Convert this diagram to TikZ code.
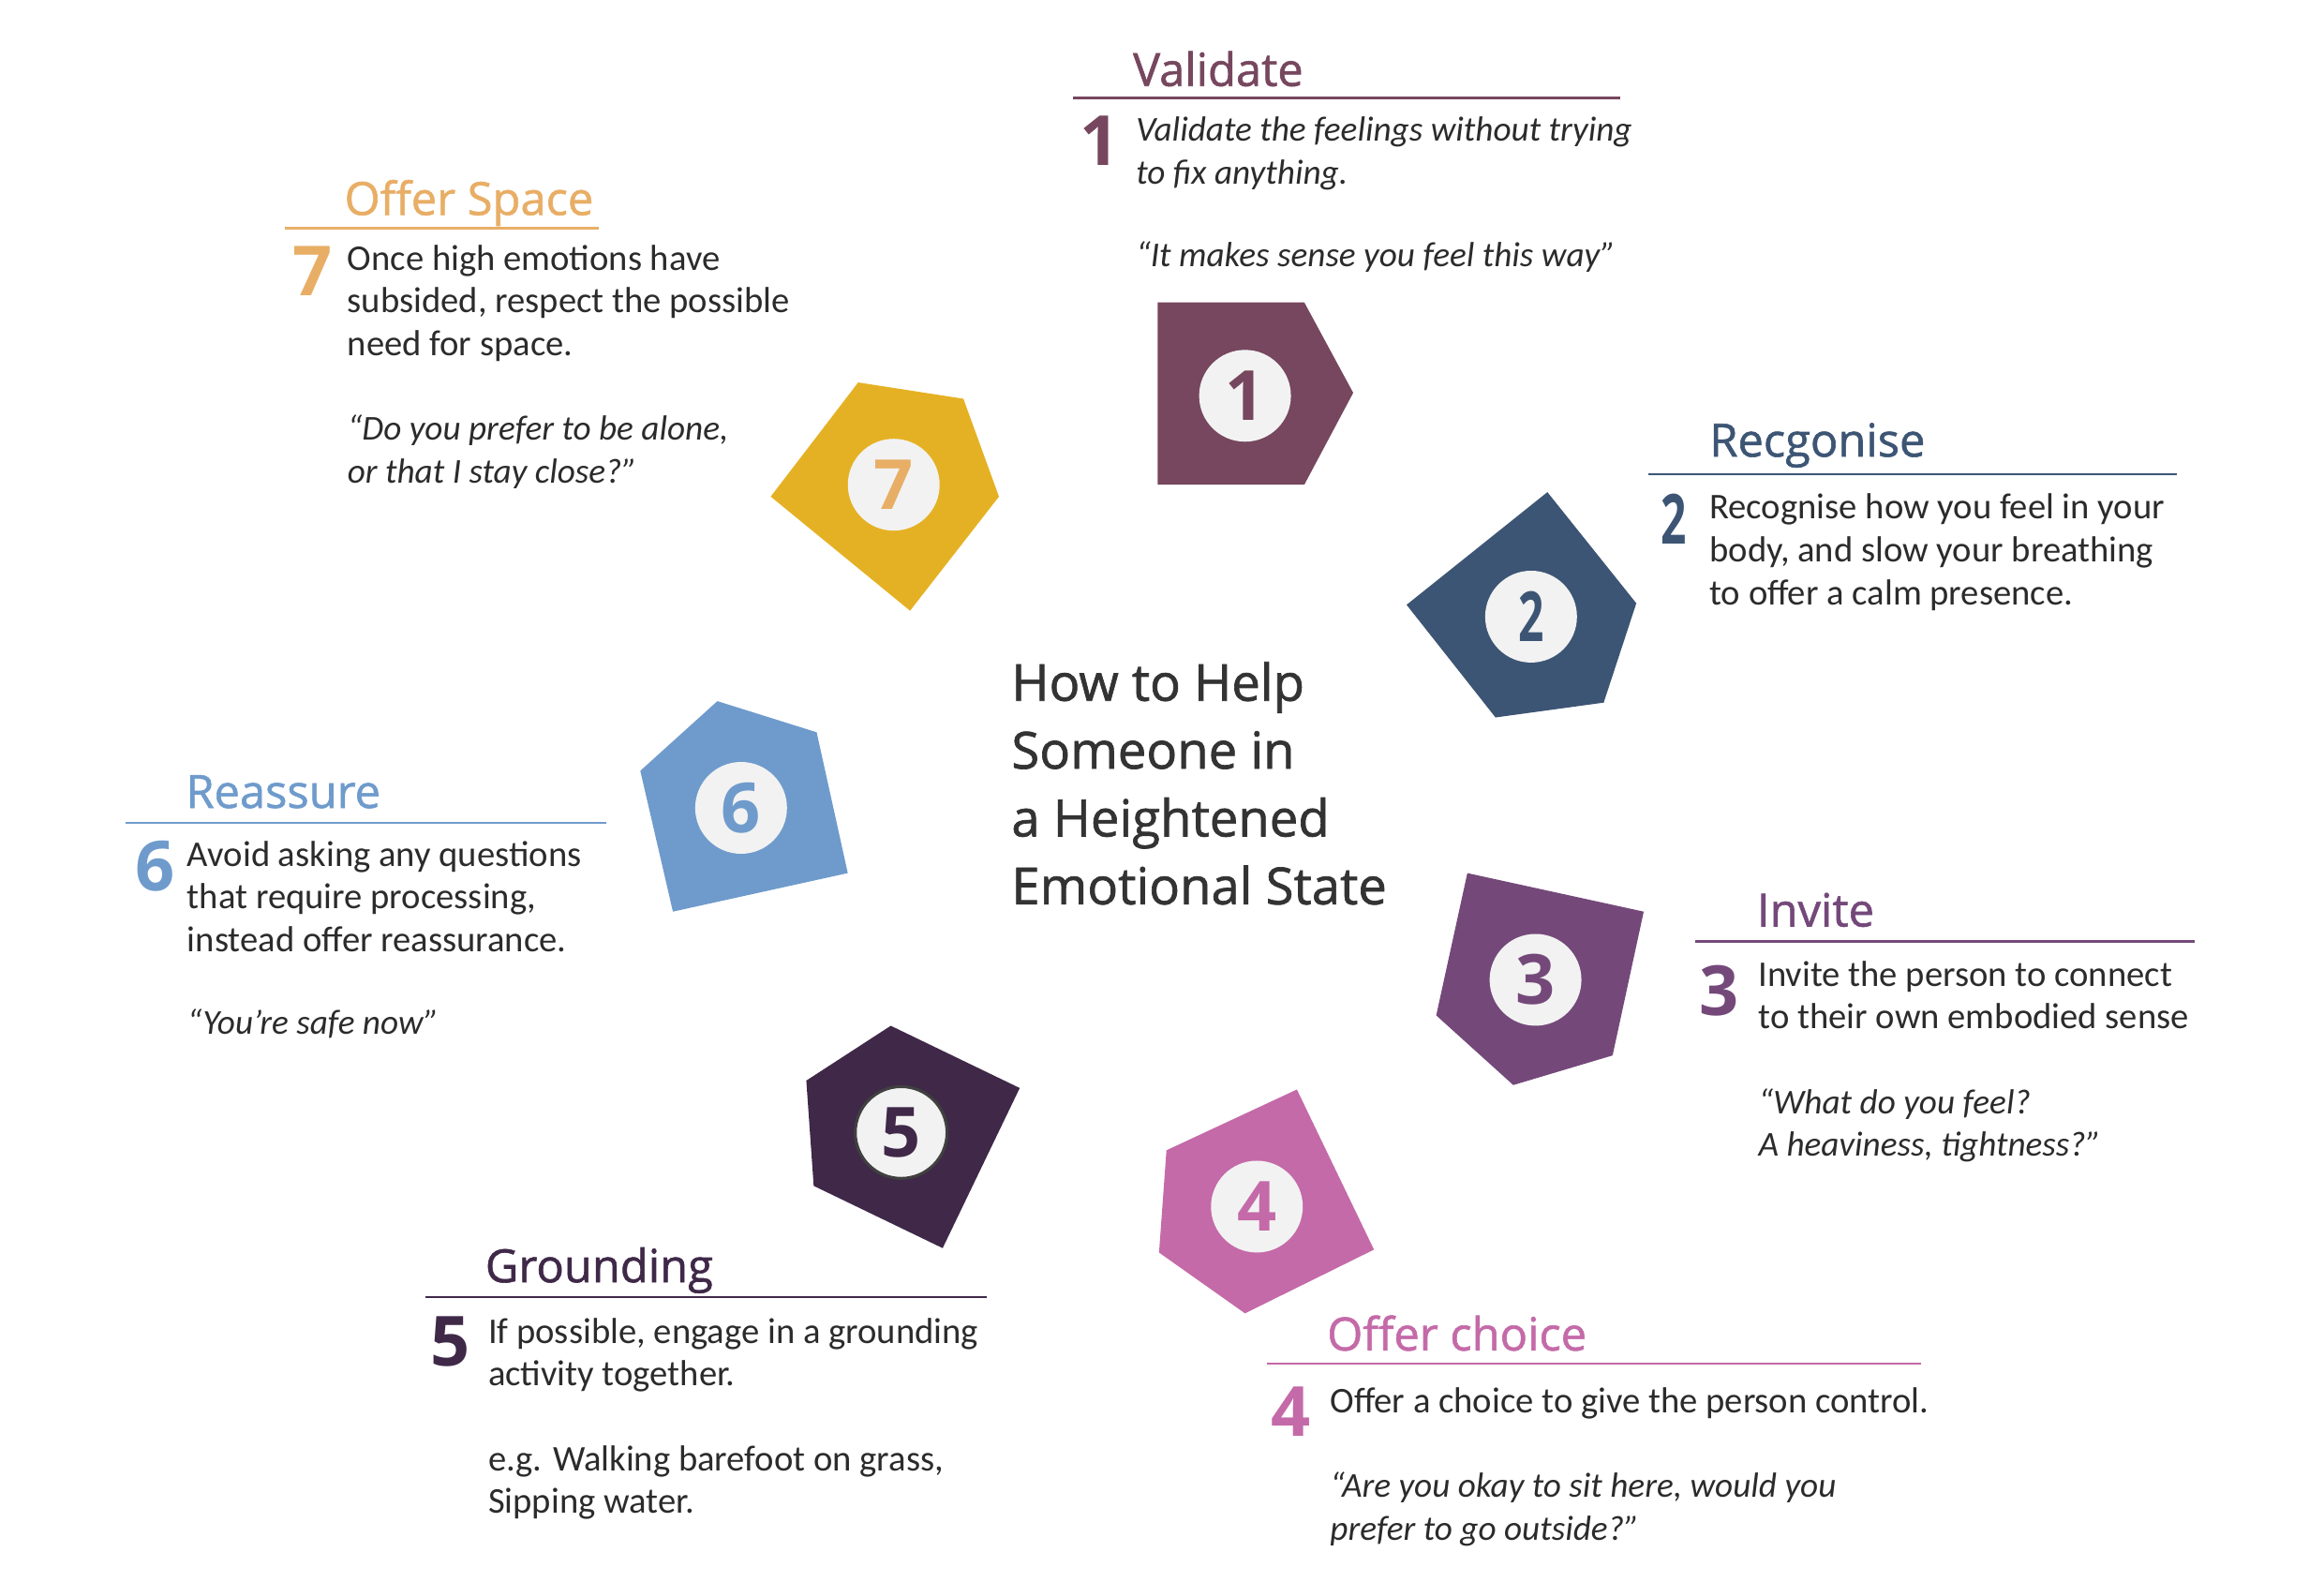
\documentclass[tikz,border=0pt]{standalone}
\usepackage{fontspec}
\usepackage{graphicx}
\setmainfont{Carlito}
\newfontfamily\headfont{Open Sans}[FakeBold=1.2]
\newfontfamily\numfont{Open Sans}
\usetikzlibrary{positioning}
\definecolor{validcol}{HTML}{76475E}
\definecolor{recogcol}{HTML}{3D5574}
\definecolor{invitecol}{HTML}{74497A}
\definecolor{choicecol}{HTML}{C46AA8}
\definecolor{groundcol}{HTML}{3F2848}
\definecolor{reasscol}{HTML}{6F9BCC}
\definecolor{spacecol}{HTML}{E5B124}
\definecolor{spacetext}{HTML}{E8AE66}
\definecolor{badgefill}{HTML}{F2F2F2}
\definecolor{bodytext}{HTML}{2B2B2B}
\definecolor{titletext}{HTML}{333333}

\begin{document}
\begin{tikzpicture}[
    x=0.015816cm, y=-0.015816cm,
    title/.style={anchor=base west, inner sep=0, align=left, text=titletext, font=\headfont\fontsize{15.5}{20.6}\selectfont},
    head/.style={anchor=base west, inner sep=0, font=\headfont\fontsize{13.9}{15}\selectfont},
    body/.style={anchor=base west, inner sep=0, align=left, text=bodytext, font=\fontsize{11}{13}\selectfont},
    quote/.style={body, font=\fontsize{10.6}{13}\selectfont\itshape},
    bignum/.style={anchor=north west, inner sep=0, font=\numfont\bfseries\fontsize{21}{21}\selectfont},
    badge/.style={circle, fill=badgefill, minimum size=9.8mm, inner sep=0, font=\numfont\bfseries\fontsize{21}{21}\selectfont},
    rule/.style={line width=0.7pt}
]
\useasboundingbox (0,0) rectangle (1568,1067);

% Title (multi-line nodes sit on their last baseline)
\node[title] (ttl) at (682,610) {How to Help\\Someone in\\a Heightened\\Emotional State};

% Tiles
\fill[validcol] (781,204) -- (880,204) -- (913,265) -- (880,327) -- (781,327) -- cycle;
\node[badge, text=validcol] (b1) at (840,267) {1};
\fill[recogcol] (1044,332) -- (1104,407) -- (1082,474) -- (1009,484) -- (949,408) -- cycle;
\node[badge, text=recogcol] (b2) at (1033,416) {\scalebox{0.65}[1]{2}};
\fill[invitecol] (990,589) -- (1109,615) -- (1088,712) -- (1021,732) -- (969,685) -- cycle;
\node[badge, text=invitecol] (b3) at (1036,661) {3};
\fill[choicecol] (875,735) -- (927,843) -- (840,886) -- (782,845) -- (787,776) -- cycle;
\node[badge, text=choicecol] (b4) at (848,814) {4};
\fill[groundcol] (601,692) -- (688,734) -- (636,842) -- (549,800) -- (544,729) -- cycle;
\node[badge, text=groundcol, draw=black!75, line width=0.9pt] (b5) at (608,764) {5};
\fill[reasscol] (484,473) -- (551,494) -- (572,589) -- (454,615) -- (432,520) -- cycle;
\node[badge, text=reasscol] (b6) at (500,545) {6};
\fill[spacecol] (579,258) -- (650,269) -- (674,335) -- (614,412) -- (520,335) -- cycle;
\node[badge, text=spacetext] (b7) at (603,327) {7};

% 1 Validate
\node[head, text=validcol] (h1) at (764,58) {Validate};
\draw[rule, validcol] (724,66) -- (1093,66);
\node[bignum, text=validcol] (n1) at (728,78) {1};
\node[quote] (t1) at (766,124) {Validate the feelings without trying\\to fix anything.};
\node[quote] (q1) at (766,180) {“It makes sense you feel this way”};

% 2 Recognise
\node[head, text=recogcol] (h2) at (1153,308) {Recgonise};
\draw[rule, recogcol] (1112,320) -- (1469,320);
\node[bignum, text=recogcol] (n2) at (1120,333) {\scalebox{0.65}[1]{2}};
\node[body] (t2) at (1153,408) {Recognise how you feel in your\\body, and slow your breathing\\to offer a calm presence.};

% 3 Invite
\node[head, text=invitecol] (h3) at (1185,625) {Invite};
\draw[rule, invitecol] (1144,635) -- (1481,635);
\node[bignum, text=invitecol] (n3) at (1146,651) {3};
\node[body] (t3) at (1186,694) {Invite the person to connect\\to their own embodied sense};
\node[quote] (q3) at (1186,780) {“What do you feel?\\A heaviness, tightness?”};

% 4 Offer choice
\node[head, text=choicecol] (h4) at (895,911) {Offer choice};
\draw[rule, choicecol] (855,920) -- (1296,920);
\node[bignum, text=choicecol] (n4) at (857,935) {4};
\node[body] (t4) at (897,953) {Offer a choice to give the person control.};
\node[quote] (q4) at (897,1039) {“Are you okay to sit here, would you\\prefer to go outside?”};

% 5 Grounding
\node[head, text=groundcol] (h5) at (327,865) {Grounding};
\draw[rule, groundcol] (287,875) -- (666,875);
\node[bignum, text=groundcol] (n5) at (290,888) {5};
\node[body] (t5) at (329,935) {If possible, engage in a grounding\\activity together.};
\node[body] (q5) at (329,1021) {e.g. Walking barefoot on grass,\\Sipping water.};

% 6 Reassure
\node[head, text=reasscol] (h6) at (125,545) {Reassure};
\draw[rule, reasscol] (85,555) -- (409,555);
\node[bignum, text=reasscol] (n6) at (91,567) {6};
\node[body] (t6) at (126,642) {Avoid asking any questions\\that require processing,\\instead offer reassurance.};
\node[quote] (q6) at (126,698) {“You’re safe now”};

% 7 Offer Space
\node[head, text=spacetext] (h7) at (232,145) {Offer Space};
\draw[rule, spacetext] (192,154) -- (404,154);
\node[bignum, text=spacetext] (n7) at (197,166) {7};
\node[body] (t7) at (234,240) {Once high emotions have\\subsided, respect the possible\\need for space.};
\node[quote] (q7) at (234,326) {“Do you prefer to be alone,\\or that I stay close?”};

\end{tikzpicture}
\end{document}
